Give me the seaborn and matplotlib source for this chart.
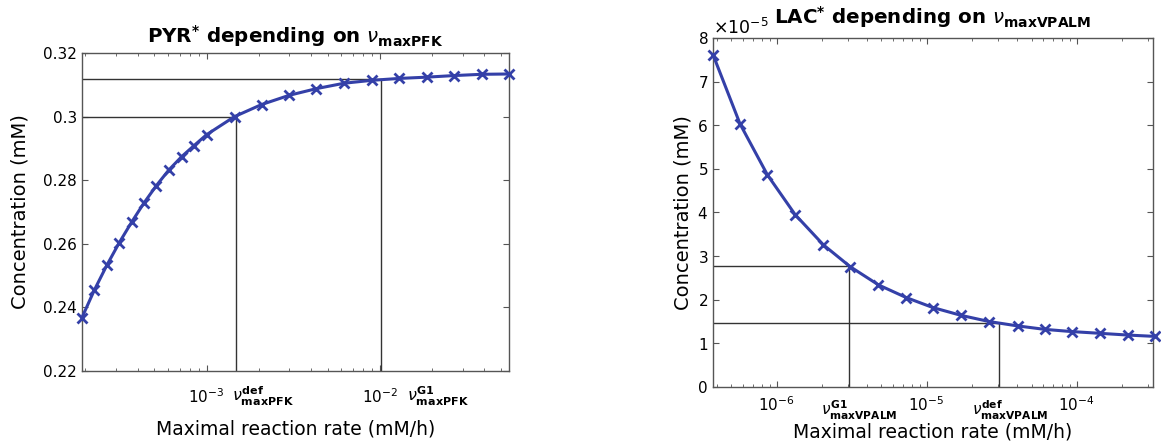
import numpy as np
import pandas as pd
import seaborn as sns
import matplotlib
matplotlib.use("Agg")
import matplotlib.pyplot as plt
from matplotlib.ticker import LogLocator, ScalarFormatter

# Setup
sns.set_style("ticks")
plt.rcParams['font.family'] = ['DejaVu Sans']
plt.rcParams['mathtext.fontset'] = 'dejavusans'
plt.rcParams.update({'text.color': 'black', 'axes.labelcolor': 'black',
                     'xtick.labelcolor': 'black', 'ytick.labelcolor': 'black'})

# Data: PYR* vs nu_maxPFK
pfk_rate = [1.911e-4, 2.255e-4, 2.662e-4, 3.140e-4, 3.705e-4, 4.350e-4, 5.134e-4,
            6.057e-4, 7.182e-4, 8.475e-4, 1.0e-3, 1.45e-3, 2.08e-3, 3.0e-3,
            4.31e-3, 6.23e-3, 8.97e-3, 1.29e-2, 1.86e-2, 2.67e-2, 3.87e-2, 5.56e-2]
pyr_conc = [0.2368, 0.2455, 0.2533, 0.2604, 0.2669, 0.2728, 0.2783, 0.2832,
            0.2874, 0.2909, 0.2943, 0.3000, 0.3038, 0.3067, 0.3088, 0.3105,
            0.3114, 0.3120, 0.3124, 0.3129, 0.3133, 0.3134]
pfk_def = (1.47e-3, 0.3000)
pfk_g1 = (1.01e-2, 0.3117)

# Data: LAC* vs nu_maxVPALM
vpalm_rate = [3.774e-7, 5.716e-7, 8.708e-7, 1.332e-6, 2.050e-6, 3.090e-6, 4.778e-6,
              7.31e-6, 1.102e-5, 1.704e-5, 2.609e-5, 4.035e-5, 6.143e-5, 9.26e-5,
              1.431e-4, 2.192e-4, 3.30e-4]
lac_conc = [7.62e-5, 6.03e-5, 4.86e-5, 3.95e-5, 3.26e-5, 2.76e-5, 2.34e-5, 2.05e-5,
            1.82e-5, 1.64e-5, 1.50e-5, 1.40e-5, 1.32e-5, 1.27e-5, 1.23e-5, 1.19e-5,
            1.16e-5]
vpalm_g1 = (3.03e-6, 2.77e-5)
vpalm_def = (3.03e-5, 1.47e-5)

line_color = '#3440a8'
ref_color = '#333333'

fig = plt.figure(figsize=(11.61, 4.48), dpi=100)
ax1 = fig.add_axes([0.0706, 0.1719, 0.3678, 0.7098])
ax2 = fig.add_axes([0.6141, 0.1362, 0.3790, 0.7790])


def style_axes(ax, xpad):
    ax.set_xscale('log')
    for s in ax.spines.values():
        s.set_color('#555555')
        s.set_linewidth(1.0)
    ax.tick_params(which='both', direction='in', top=True, right=True,
                   color='#555555', labelsize=11)
    ax.tick_params(which='major', length=4, width=0.8)
    ax.tick_params(which='minor', length=2.5, width=0.6)
    ax.tick_params(axis='x', which='major', pad=xpad)
    ax.xaxis.set_minor_locator(LogLocator(base=10, subs=np.arange(2, 10)))


def ref_lines(ax, point, xmin, ymin):
    x, y = point
    ax.plot([xmin, x], [y, y], color=ref_color, lw=1.0, zorder=1)
    ax.plot([x, x], [ymin, y], color=ref_color, lw=1.0, zorder=1)


# Left panel
df1 = pd.DataFrame({'rate': pfk_rate, 'conc': pyr_conc})
style_axes(ax1, 12)
ax1.set_xlim(pfk_rate[0], pfk_rate[-1])
ax1.set_ylim(0.22, 0.32)
ax1.set_yticks([0.22, 0.24, 0.26, 0.28, 0.3, 0.32])
ax1.set_yticklabels(['0.22', '0.24', '0.26', '0.28', '0.3', '0.32'])
ref_lines(ax1, pfk_def, pfk_rate[0], 0.22)
ref_lines(ax1, pfk_g1, pfk_rate[0], 0.22)
sns.lineplot(data=df1, x='rate', y='conc', ax=ax1, color=line_color, lw=2.2,
             marker='x', markersize=6.5, markeredgewidth=2, markeredgecolor=line_color,
             zorder=3, clip_on=False)
ax1.set_xlabel("Maximal reaction rate (mM/h)", fontsize=13.5)
ax1.set_ylabel("Concentration (mM)", fontsize=14)
ax1.xaxis.set_label_coords(0.5, -0.152)
ax1.yaxis.set_label_coords(-0.122, 0.5)
ax1.set_title(r'PYR$^{\mathbf{*}}$ depending on $\nu_{\mathbf{maxPFK}}$',
              fontsize=14.3, fontweight='bold', pad=7)
ax1.text(pfk_def[0] * 1.45, -0.045, r'$\nu^{\mathbf{def}}_{\mathbf{maxPFK}}$',
         transform=ax1.get_xaxis_transform(), ha='center', va='top', fontsize=11.5)
ax1.text(pfk_g1[0] * 2.15, -0.045, r'$\nu^{\mathbf{G1}}_{\mathbf{maxPFK}}$',
         transform=ax1.get_xaxis_transform(), ha='center', va='top', fontsize=11.5)

# Right panel
df2 = pd.DataFrame({'rate': vpalm_rate, 'conc': lac_conc})
style_axes(ax2, 6)
ax2.set_xlim(vpalm_rate[0], 3.22e-4)
ax2.set_ylim(0, 8e-5)
ax2.set_yticks(np.arange(0, 9) * 1e-5)
fmt = ScalarFormatter(useMathText=True)
fmt.set_powerlimits((0, 0))
ax2.yaxis.set_major_formatter(fmt)
ax2.yaxis.get_offset_text().set_fontsize(12.5)
ref_lines(ax2, vpalm_g1, vpalm_rate[0], 0)
ref_lines(ax2, vpalm_def, vpalm_rate[0], 0)
sns.lineplot(data=df2, x='rate', y='conc', ax=ax2, color=line_color, lw=2.2,
             marker='x', markersize=6.5, markeredgewidth=2, markeredgecolor=line_color,
             zorder=3, clip_on=False)
ax2.set_xlabel("Maximal reaction rate (mM/h)", fontsize=13.5)
ax2.set_ylabel("Concentration (mM)", fontsize=14)
ax2.xaxis.set_label_coords(0.5, -0.102)
ax2.yaxis.set_label_coords(-0.046, 0.5)
ax2.set_title(r'LAC$^{\mathbf{*}}$ depending on $\nu_{\mathbf{maxVPALM}}$',
              fontsize=14.3, fontweight='bold', pad=10)
ax2.text(vpalm_g1[0] * 1.18, -0.033, r'$\nu^{\mathbf{G1}}_{\mathbf{maxVPALM}}$',
         transform=ax2.get_xaxis_transform(), ha='center', va='top', fontsize=11)
ax2.text(vpalm_def[0] * 1.19, -0.033, r'$\nu^{\mathbf{def}}_{\mathbf{maxVPALM}}$',
         transform=ax2.get_xaxis_transform(), ha='center', va='top', fontsize=11)

plt.savefig("out.png", dpi=100)
plt.close()
